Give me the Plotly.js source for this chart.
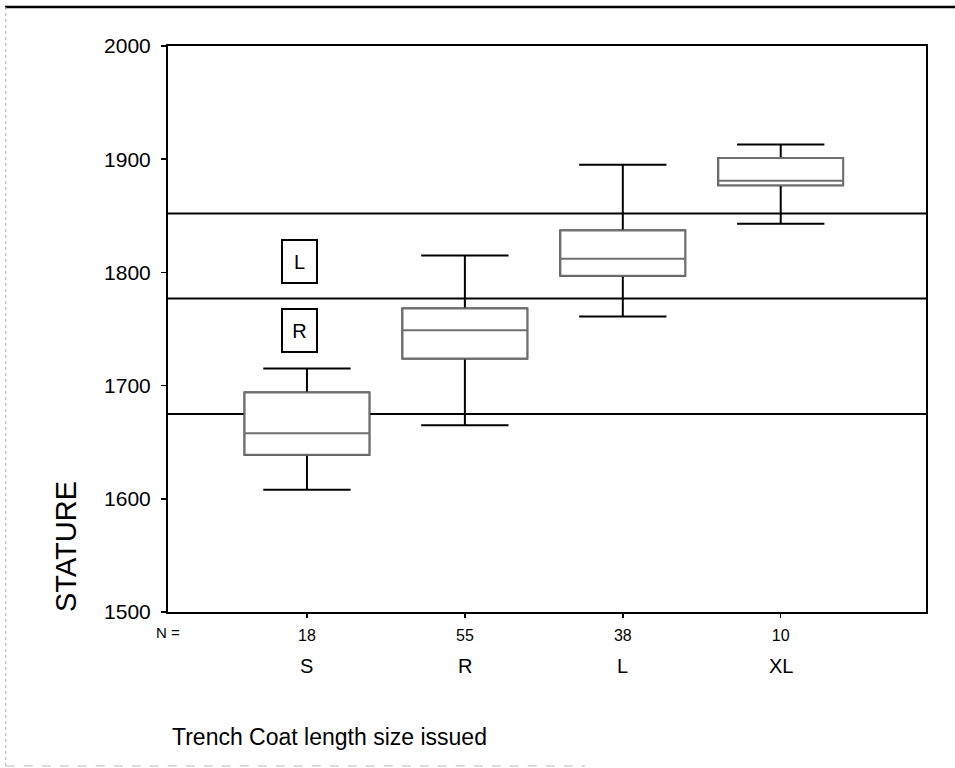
<!DOCTYPE html>
<html>
<head>
<meta charset="utf-8">
<script src="https://cdn.plot.ly/plotly-3.0.1.min.js"></script>
<style>
html, body { margin: 0; padding: 0; background: #fff; }
#chart { width: 955px; height: 768px; }
</style>
</head>
<body>
<div id="chart"></div>
<script>
// ---- data ----
var categories = ['S', 'R', 'L', 'XL'];
var counts = [18, 55, 38, 10];
var lowerWhisker = [1608, 1665, 1761, 1843];
var q1 = [1639, 1724, 1797, 1877];
var median = [1658, 1749, 1812, 1881];
var q3 = [1694, 1768, 1837, 1901];
var upperWhisker = [1715, 1815, 1895, 1913];
var refLines = [1852, 1777, 1675];
var regionLabels = ['L', 'R'];
var regionLabelY = [1810, 1749];
var regionLabelX = 0.95;

var FONT = 'Liberation Sans, Arial, Helvetica, sans-serif';
var xPos = categories.map(function (c, i) { return i + 1; });

// whiskers + caps (black)
var whiskers = {
  type: 'box',
  x: xPos,
  q1: q1, median: median, q3: q3,
  lowerfence: lowerWhisker, upperfence: upperWhisker,
  width: 0.79,
  whiskerwidth: 0.7,
  line: { color: '#000', width: 2 },
  fillcolor: 'rgba(255,255,255,0)',
  boxpoints: false,
  hoverinfo: 'skip',
  showlegend: false
};
// box body + median (grey)
var bodies = {
  type: 'box',
  x: xPos,
  q1: q1, median: median, q3: q3,
  lowerfence: q1, upperfence: q3,
  width: 0.79,
  whiskerwidth: 0,
  line: { color: '#707070', width: 2 },
  fillcolor: '#ffffff',
  boxpoints: false,
  hoverinfo: 'skip',
  showlegend: false
};

var shapes = refLines.map(function (v) {
  return { type: 'line', xref: 'paper', yref: 'y', x0: 0, x1: 1, y0: v, y1: v,
           line: { color: '#000', width: 2 }, layer: 'below' };
});
// scan frame: thick top rule, faint left & bottom edges
shapes.push({ type: 'line', xref: 'paper', yref: 'paper', x0: -0.215, x1: 1.04, y0: 1.069, y1: 1.069,
              line: { color: '#000', width: 2.5 } });
shapes.push({ type: 'line', xref: 'paper', yref: 'paper', x0: -0.214, x1: -0.214, y0: 1.069, y1: -0.275,
              line: { color: '#aaa', width: 1, dash: 'dot' } });
shapes.push({ type: 'line', xref: 'paper', yref: 'paper', x0: -0.214, x1: 0.55, y0: -0.272, y1: -0.272,
              line: { color: '#bbb', width: 1, dash: 'dash' } });

var annotations = [];
regionLabels.forEach(function (t, i) {
  annotations.push({
    xref: 'x', yref: 'y', x: regionLabelX, y: regionLabelY[i],
    text: t, showarrow: false,
    font: { family: FONT, size: 20, color: '#000' },
    width: 31, height: 39, borderpad: 1,
    bordercolor: '#000', borderwidth: 2, bgcolor: '#fff'
  });
});
categories.forEach(function (c, i) {
  annotations.push({
    xref: 'x', yref: 'paper', x: xPos[i], y: -0.095, yanchor: 'middle',
    text: c, showarrow: false,
    font: { family: FONT, size: 20, color: '#000' }
  });
});
annotations.push({
  xref: 'paper', yref: 'paper', x: 0, y: -0.037, xanchor: 'center', yanchor: 'middle',
  text: 'N =', showarrow: false, font: { family: FONT, size: 15, color: '#000' }
});
annotations.push({
  xref: 'paper', yref: 'paper', x: 0.003, y: -0.221, xanchor: 'left', yanchor: 'middle',
  text: 'Trench Coat length size issued', showarrow: false,
  font: { family: FONT, size: 23, color: '#000' }
});
annotations.push({
  xref: 'paper', yref: 'paper', x: -0.1346, y: 0.1166, xanchor: 'center', yanchor: 'middle',
  text: 'STATURE', textangle: -90, showarrow: false,
  font: { family: FONT, size: 29, color: '#000' }
});

var layout = {
  width: 955, height: 768,
  margin: { l: 168, r: 29, t: 46, b: 156 },
  paper_bgcolor: '#fff', plot_bgcolor: '#fff',
  showlegend: false,
  boxmode: 'overlay',
  font: { family: FONT, color: '#000' },
  xaxis: {
    range: [0.12, 4.92],
    tickvals: xPos, ticktext: counts.map(String),
    ticks: 'outside', ticklen: 4, tickwidth: 1.5, tickcolor: '#000',
    ticklabelstandoff: 4,
    tickfont: { family: FONT, size: 16, color: '#000' },
    showline: true, linecolor: '#000', linewidth: 2, mirror: true,
    showgrid: false, zeroline: false
  },
  yaxis: {
    range: [1500, 2000], dtick: 100, tick0: 1500,
    ticks: 'outside', ticklen: 5, tickwidth: 1.5, tickcolor: '#000',
    ticklabelstandoff: 6,
    tickfont: { family: FONT, size: 21, color: '#000' },
    showline: true, linecolor: '#000', linewidth: 2, mirror: true,
    showgrid: false, zeroline: false
  },
  shapes: shapes,
  annotations: annotations
};

Plotly.newPlot('chart', [whiskers, bodies], layout, { displayModeBar: false, staticPlot: true });
</script>
</body>
</html>
